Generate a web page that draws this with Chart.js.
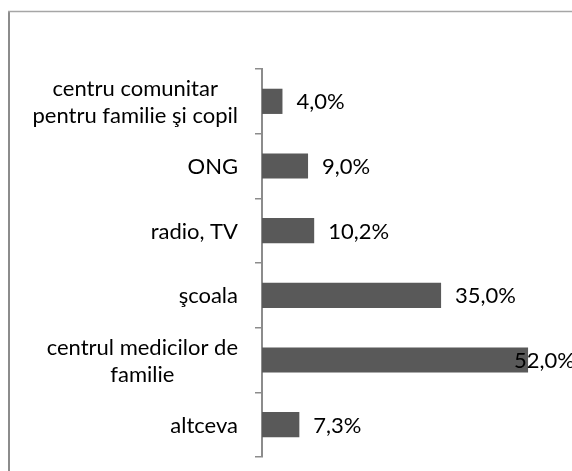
<!DOCTYPE html>
<html>
<head>
<meta charset="utf-8">
<style>
  html, body { margin: 0; padding: 0; background: #ffffff; }
  #wrap { position: relative; width: 572px; height: 471px; }
</style>
<script src="https://cdn.jsdelivr.net/npm/chart.js@4/dist/chart.umd.min.js"></script>
</head>
<body>
<div id="wrap"><canvas id="c" width="572" height="471"></canvas></div>
<script>
// ---- data ----
const categories = [
  ["centru comunitar", "pentru familie şi copil"],
  ["ONG"],
  ["radio, TV"],
  ["şcoala"],
  ["centrul medicilor de", "familie"],
  ["altceva"]
];
const values = [4.0, 9.0, 10.2, 35.0, 52.0, 7.3];
const valueLabels = ["4,0%", "9,0%", "10,2%", "35,0%", "52,0%", "7,3%"];
const axisMax = 60;

const FONT = "22px Lato, 'Noto Sans', sans-serif";
const LINE_H = 27;

const framePlugin = {
  id: 'frame',
  beforeDraw(chart) {
    const ctx = chart.ctx;
    ctx.save();
    ctx.fillStyle = '#ffffff';
    ctx.fillRect(0, 0, chart.width, chart.height);
    ctx.strokeStyle = '#8c8c8c';
    ctx.lineWidth = 2;
    ctx.beginPath();
    ctx.moveTo(9, chart.height + 5);
    ctx.lineTo(9, 11.5);
    ctx.stroke();
    ctx.strokeStyle = '#a6a6a6';
    ctx.lineWidth = 1.5;
    ctx.beginPath();
    ctx.moveTo(8, 11.5);
    ctx.lineTo(chart.width + 5, 11.5);
    ctx.stroke();
    ctx.restore();
  }
};

const labelPlugin = {
  id: 'labels',
  afterDraw(chart) {
    const ctx = chart.ctx;
    const y = chart.scales.y;
    ctx.save();
    ctx.font = FONT;
    ctx.fillStyle = '#000000';
    ctx.textBaseline = 'middle';
    // category labels (multi-line centered, block right-aligned)
    const xRight = y.right - 24;
    categories.forEach((lines, i) => {
      const cy = y.getPixelForTick(i);
      const widest = Math.max(...lines.map(l => ctx.measureText(l).width));
      const cx = xRight - widest / 2;
      ctx.textAlign = 'center';
      const top = cy - (lines.length - 1) * LINE_H / 2;
      lines.forEach((l, k) => ctx.fillText(l, cx, top + k * LINE_H + 1));
    });
    // value labels
    const meta = chart.getDatasetMeta(0);
    ctx.textAlign = 'left';
    meta.data.forEach((bar, i) => {
      const txt = valueLabels[i];
      const w = ctx.measureText(txt).width;
      let x = bar.x + 14;
      const limit = chart.width + 3 - w;
      if (x > limit) x = limit;
      ctx.fillText(txt, x, bar.y + 1);
    });
    ctx.restore();
  }
};

new Chart(document.getElementById('c'), {
  type: 'bar',
  data: {
    labels: categories,
    datasets: [{
      data: values,
      backgroundColor: '#595959',
      borderColor: '#595959',
      borderWidth: 0,
      categoryPercentage: 1.0,
      barPercentage: 0.39
    }]
  },
  options: {
    indexAxis: 'y',
    responsive: false,
    animation: false,
    devicePixelRatio: 1,
    layout: { padding: { top: 69, bottom: 14, right: 3, left: 0 } },
    plugins: {
      legend: { display: false },
      tooltip: { enabled: false }
    },
    scales: {
      x: {
        display: false,
        min: 0,
        max: axisMax
      },
      y: {
        offset: true,
        afterFit(scale) { scale.width = 262; },
        ticks: { display: false },
        grid: {
          offset: true,
          drawOnChartArea: false,
          drawTicks: true,
          tickLength: 7,
          color: '#8c8c8c',
          lineWidth: 1.5
        },
        border: { display: true, color: '#8c8c8c', width: 2 }
      }
    }
  },
  plugins: [framePlugin, labelPlugin]
});
</script>
</body>
</html>
